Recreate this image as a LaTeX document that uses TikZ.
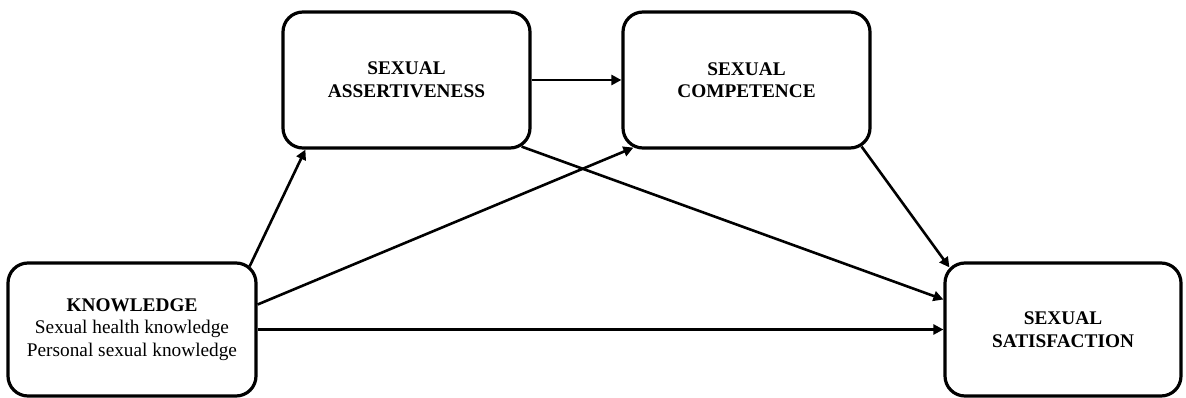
\documentclass[tikz,border=0pt]{standalone}
\usepackage{fontspec}
\setmainfont{Liberation Serif}
\usetikzlibrary{arrows.meta}
\begin{document}
\begin{tikzpicture}[x=1pt,y=-1pt,
  box/.style={draw, line width=3.2pt, rounded corners=20pt, align=center,
    inner sep=0pt, font=\fontsize{19.3}{22.5}\selectfont},
  path/.style={line width=2.6pt, -{Triangle[length=10pt,width=10pt]}}]
  \useasboundingbox (0,0) rectangle (1186,398);
  % construct boxes
  \node[box, minimum width=248pt, minimum height=133pt] (K) at (132,329.5)
    {\textbf{KNOWLEDGE}\\Sexual health knowledge\\Personal sexual knowledge};
  \node[box, minimum width=247pt, minimum height=136pt] (A) at (406.5,80)
    {\textbf{SEXUAL}\\\textbf{ASSERTIVENESS}};
  \node[box, minimum width=247pt, minimum height=136pt] (C) at (746.5,80)
    {\textbf{SEXUAL}\\\textbf{COMPETENCE}};
  \node[box, minimum width=236pt, minimum height=133pt] (S) at (1063,329.5)
    {\textbf{SEXUAL}\\\textbf{SATISFACTION}};
  % paths between constructs
  \draw[path] ([xshift=-8pt,yshift=-5pt]K.north east) -- ([xshift=24pt]A.south west);
  \draw[path] ([yshift=25pt]K.east) -- ([xshift=12pt,yshift=2pt]C.south west);
  \draw[path] (K.east) -- (S.west);
  \draw[path] (A.east) -- (C.west);
  \draw[path] ([xshift=-10pt,yshift=3pt]A.south east) -- ([yshift=30pt]S.west);
  \draw[path] ([xshift=-10pt,yshift=3pt]C.south east) -- ([xshift=6pt,yshift=-6pt]S.north west);
\end{tikzpicture}
\end{document}
